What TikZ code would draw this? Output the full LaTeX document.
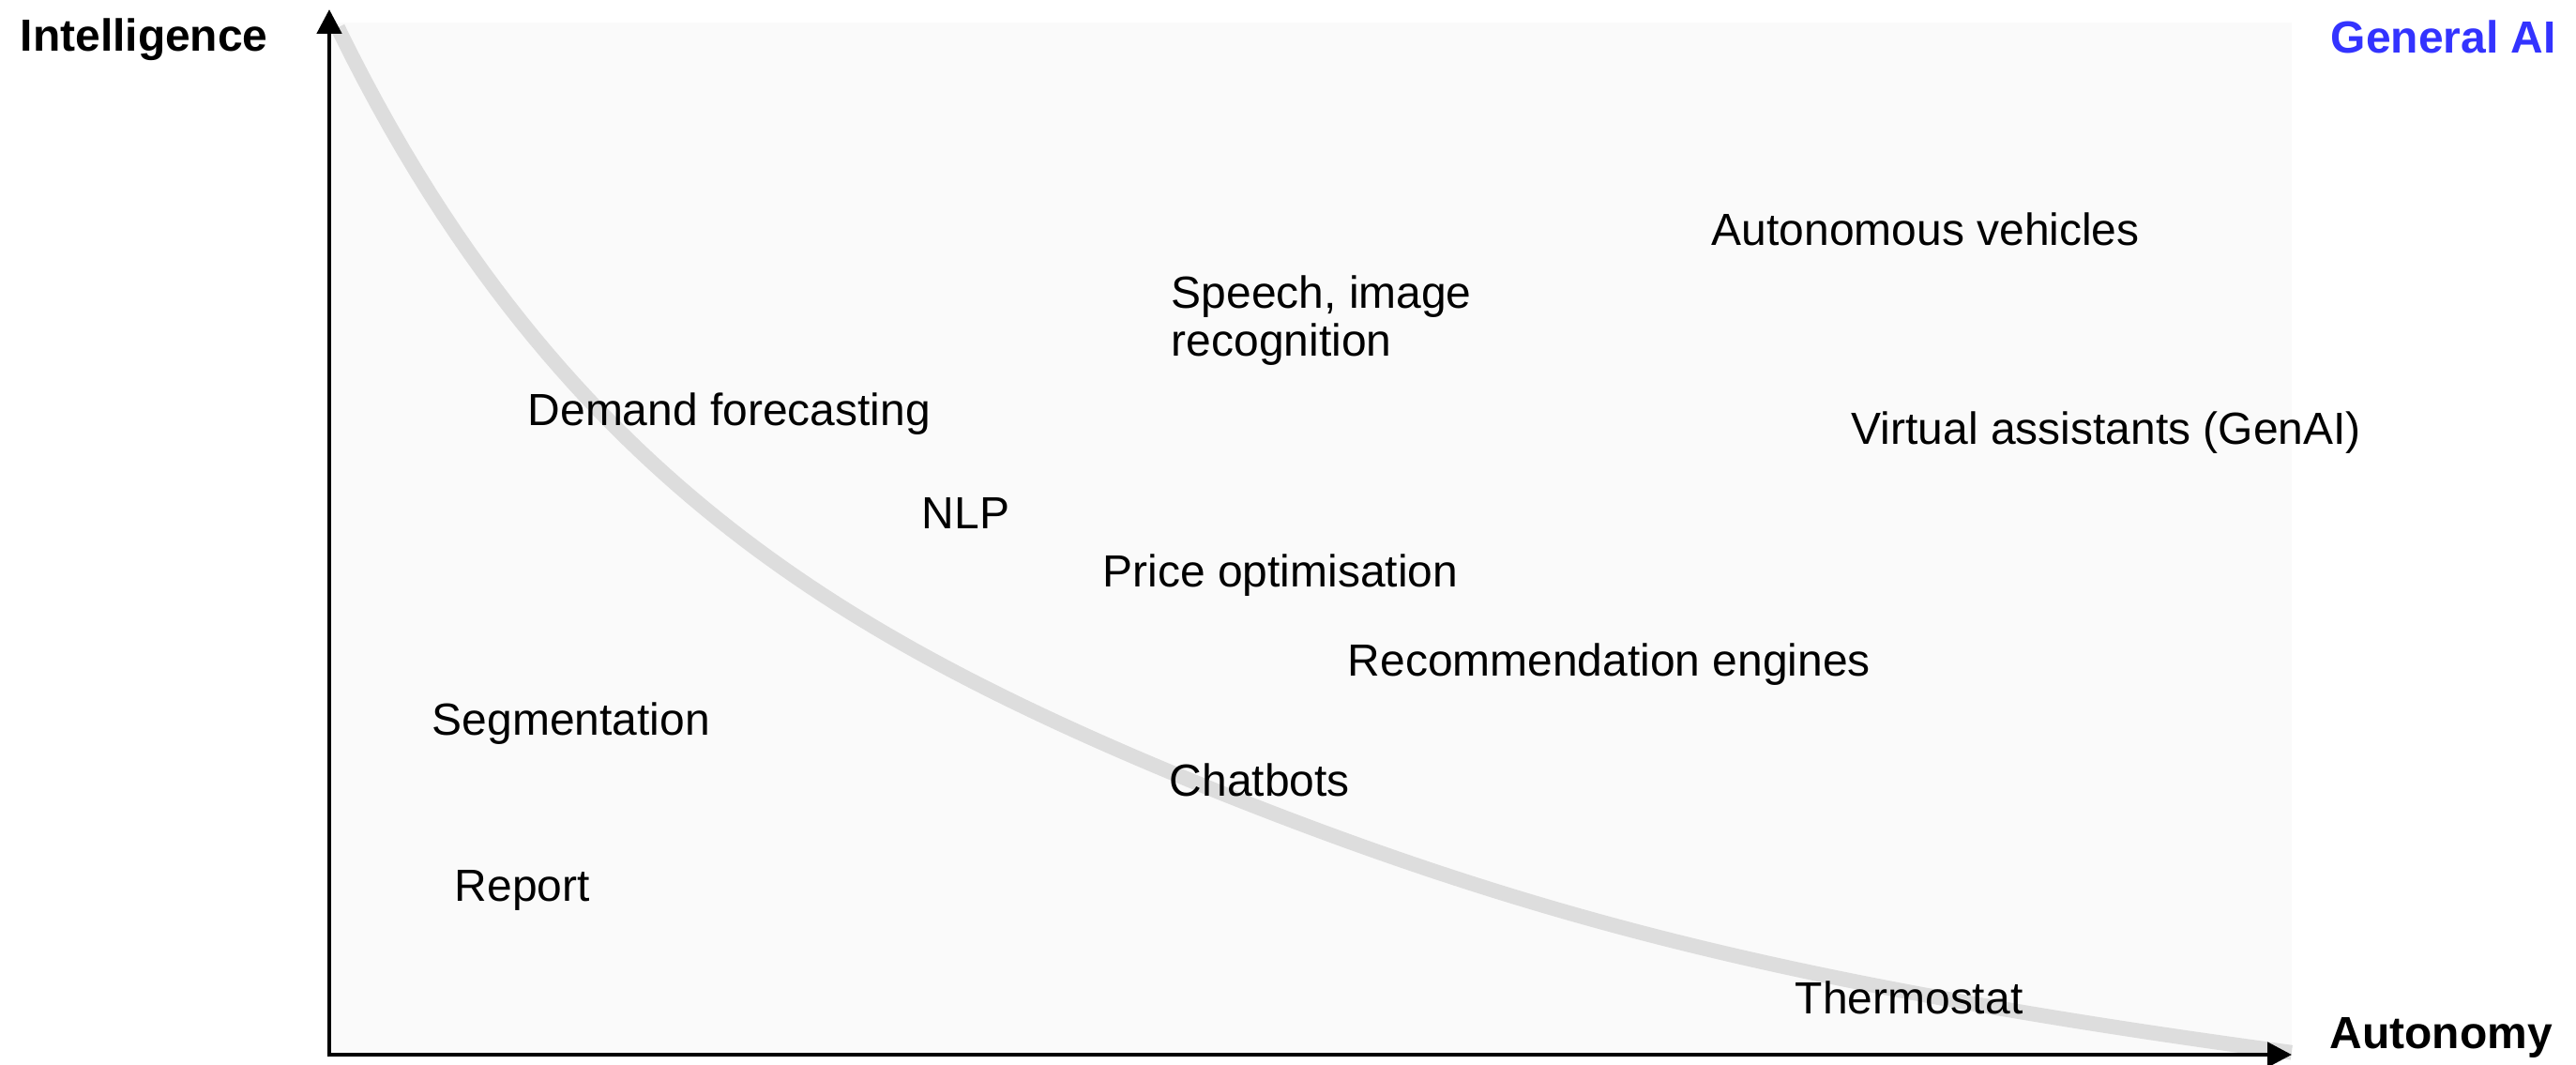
\documentclass[tikz,border=0pt]{standalone}
\usepackage{fontspec}
\setmainfont{Liberation Sans}
\usetikzlibrary{arrows.meta}
\definecolor{bgcol}{RGB}{250,250,250}
\definecolor{curvecol}{RGB}{221,221,221}
\definecolor{genblue}{RGB}{51,51,255}
\begin{document}
\begin{tikzpicture}[
  lbl/.style={anchor=base west, inner sep=0pt, font=\fontsize{13.65}{14.6}\selectfont},
  axlbl/.style={lbl, font=\fontsize{13.65}{14.6}\selectfont\bfseries},
  axis/.style={line width=1.4pt, -{Triangle[length=0.26cm,width=0.26cm]}},
  trend/.style={line width=4.5pt, curvecol}
]
\useasboundingbox (0,0) rectangle (27.46,11.34);
\fill[bgcol] (3.51,0.10) rectangle (24.43,11.10);
% trend curve
\draw[trend] plot[domain=3.60:24.43, samples=150] (\x, {-3.614+104.48/(\x+3.53)+0.2*exp(-((\x-12)/4.5)^2)});
% axes
\coordinate (origin) at (3.51,0.10);
\coordinate (ytop) at (3.51,11.24);
\coordinate (xend) at (24.43,0.10);
\draw[axis] ([yshift=-0.7pt]origin) -- (ytop);
\draw[axis] ([xshift=-0.7pt]origin) -- (xend);
% axis labels
\node[axlbl] (intel) at (0.21,10.79) {Intelligence};
\node[axlbl, text=genblue] (gen) at (24.84,10.77) {General AI};
\node[axlbl] (auton) at (24.83,0.17) {Autonomy};
% items
\node[lbl] (demand) at (5.62,6.80) {Demand forecasting};
\node[lbl, align=left] (speech) at (12.48,7.54) {Speech, image\\recognition};
\node[lbl] (autoveh) at (18.24,8.72) {Autonomous vehicles};
\node[lbl] (virtual) at (19.73,6.60) {Virtual assistants (GenAI)};
\node[lbl] (nlp) at (9.82,5.70) {NLP};
\node[lbl] (price) at (11.75,5.09) {Price optimisation};
\node[lbl] (recom) at (14.36,4.14) {Recommendation engines};
\node[lbl] (segm) at (4.60,3.51) {Segmentation};
\node[lbl] (chat) at (12.46,2.86) {Chatbots};
\node[lbl] (report) at (4.84,1.74) {Report};
\node[lbl] (thermo) at (19.13,0.54) {Thermostat};
\end{tikzpicture}
\end{document}
